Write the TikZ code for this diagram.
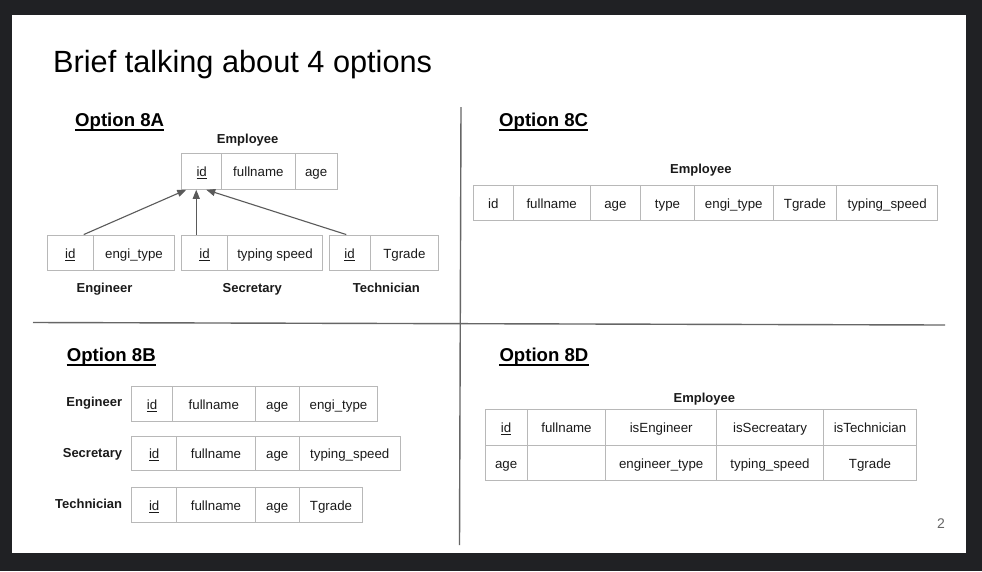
\documentclass[tikz,border=0pt]{standalone}
\usepackage{fontspec}
\setmainfont{Liberation Sans}
\usetikzlibrary{arrows.meta}

\definecolor{frame}{HTML}{202124}
\definecolor{grid}{HTML}{B8B8B8}
\definecolor{ink}{HTML}{1A1A1A}
\definecolor{rulec}{HTML}{666666}
\definecolor{arrowc}{HTML}{5A5A5A}
\definecolor{pagenum}{HTML}{666666}

% underlined key attribute
\newsavebox\keybox
\newcommand\keyattr[1]{\sbox\keybox{#1}\rlap{\rule[-2.2pt]{\wd\keybox}{0.8pt}}\usebox\keybox}

\tikzset{
  cell/.style={draw=grid, line width=0.9pt, inner sep=0pt, text height=11.2pt,
    text depth=0pt, font=\fontsize{13.3}{16}\selectfont, text=ink},
  tlabel/.style={font=\bfseries\fontsize{13}{15}\selectfont, text=ink, inner sep=0pt},
  heading/.style={font=\bfseries\fontsize{18.6}{22}\selectfont, inner sep=0pt,
    anchor=base west, text=black},
  headrule/.style={line width=1.3pt, draw=black},
  isa/.style={draw=arrowc, line width=1.1pt, -{Triangle[length=9pt,width=7pt]}},
  divider/.style={draw=rulec, line width=1.4pt},
}

% a row of table cells: name prefix, top, bottom, list of left/right/text
\newcommand\cellrow[4]{%
  \foreach \cl/\cr/\ctxt [count=\ci] in {#4} {
    \node[cell, minimum width={\cr pt-\cl pt}, minimum height={#3pt-#2pt}]
      (#1-\ci) at ({(\cl+\cr)/2},{(#2+#3)/2}) {\ctxt};
  }%
}

\begin{document}
\begin{tikzpicture}[x=1pt, y=-1pt]
  % slide and its surround
  \fill[frame] (0,0) rectangle (982,571);
  \fill[white] (12,15) rectangle (966,552.5);
  \useasboundingbox (0,0) rectangle (982,571);

  \node[anchor=base west, inner sep=0pt, font=\fontsize{30.7}{36}\selectfont, text=black]
    (title) at (53,72) {Brief talking about 4 options};

  % quadrant dividers
  \draw[divider] (461,107) -- (459.5,545);
  \draw[divider] (33,322.5) -- (945,325);

  % ---------- Option 8A ----------
  \node[heading] (h8a) at (75,126.7) {Option 8A};
  \draw[headrule] ([yshift=-3.3pt]h8a.base west) -- ([yshift=-3.3pt]h8a.base east);

  \node[tlabel, anchor=base] (emplabA) at (247.7,143.5) {Employee};
  \cellrow{empA}{153.3}{189.3}{181.7/221.7/\keyattr{id}, 221.7/295/fullname, 295/337.3/age}

  \cellrow{engA}{235}{270.7}{47.3/93.3/\keyattr{id}, 93.3/174.7/engi\_type}
  \cellrow{secA}{235}{270.7}{181.7/227.3/\keyattr{id}, 227.3/322.7/typing speed}
  \cellrow{tecA}{235}{270.7}{329.3/370/\keyattr{id}, 370/438.7/Tgrade}

  \node[tlabel, anchor=base] (englabA) at (104.5,292.8) {Engineer};
  \node[tlabel, anchor=base] (seclabA) at (252.3,292.8) {Secretary};
  \node[tlabel, anchor=base] (teclabA) at (386.3,292.8) {Technician};

  \draw[isa] ([xshift=-10pt]engA-1.north east) -- ([xshift=5pt]empA-1.south west);
  \draw[isa] ([xshift=15pt]secA-1.north west) -- ([xshift=15pt]empA-1.south west);
  \draw[isa] ([xshift=17.4pt]tecA-1.north west) -- ([xshift=25pt]empA-1.south west);

  % ---------- Option 8C ----------
  \node[heading] (h8c) at (499,126.7) {Option 8C};
  \draw[headrule] ([yshift=-3.3pt]h8c.base west) -- ([yshift=-3.3pt]h8c.base east);

  \node[tlabel, anchor=base] (emplabC) at (700.8,173) {Employee};
  \cellrow{empC}{185}{220.7}{473.3/513.3/id, 513.3/590/fullname, 590/640.7/age,
    640.7/694.3/type, 694.3/773.3/engi\_type, 773.3/836.7/Tgrade,
    836.7/937.7/typing\_speed}

  % ---------- Option 8B ----------
  \node[heading] (h8b) at (66.7,361.7) {Option 8B};
  \draw[headrule] ([yshift=-3.3pt]h8b.base west) -- ([yshift=-3.3pt]h8b.base east);

  \node[tlabel, anchor=base east] (englabB) at (122.3,406) {Engineer};
  \cellrow{engB}{386.7}{421.7}{131.7/172.3/\keyattr{id}, 172.3/255.3/fullname,
    255.3/299.3/age, 299.3/377.7/engi\_type}

  \node[tlabel, anchor=base east] (seclabB) at (122.3,457.6) {Secretary};
  \cellrow{secB}{436}{470.7}{131.7/176.7/\keyattr{id}, 176.7/255.3/fullname,
    255.3/299.3/age, 299.3/400.3/typing\_speed}

  \node[tlabel, anchor=base east] (teclabB) at (122.3,508.6) {Technician};
  \cellrow{tecB}{487.3}{522.3}{131.7/176.7/\keyattr{id}, 176.7/255.3/fullname,
    255.3/299.3/age, 299.3/362.7/Tgrade}

  % ---------- Option 8D ----------
  \node[heading] (h8d) at (499.3,361.7) {Option 8D};
  \draw[headrule] ([yshift=-3.3pt]h8d.base west) -- ([yshift=-3.3pt]h8d.base east);

  \node[tlabel, anchor=base] (emplabD) at (704.3,402.3) {Employee};
  \cellrow{empDa}{409.3}{445}{485/527.3/\keyattr{id}, 527.3/605.7/fullname,
    605.7/716.7/isEngineer, 716.7/823.3/isSecreatary, 823.3/916.7/isTechnician}
  \cellrow{empDb}{445}{480}{485/527.3/age, 527.3/605.7/{}, 605.7/716.7/engineer\_type,
    716.7/823.3/typing\_speed, 823.3/916.7/Tgrade}

  % slide number
  \node[anchor=base, inner sep=0pt, font=\fontsize{14}{16}\selectfont, text=pagenum]
    (pageno) at (941,528.3) {2};
\end{tikzpicture}
\end{document}
